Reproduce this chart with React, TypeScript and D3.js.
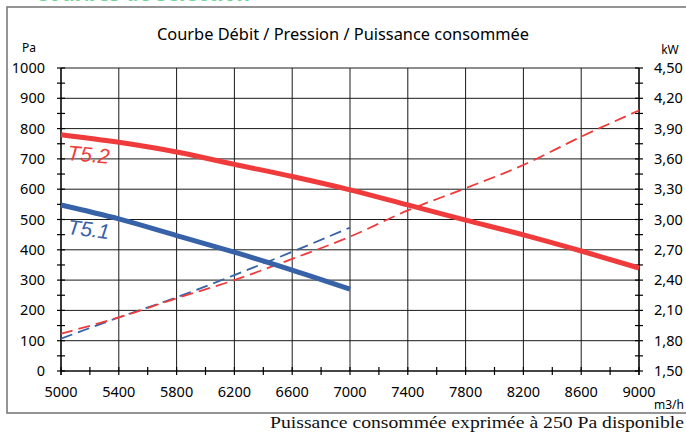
import React from 'react';
import * as d3 from 'd3';

// débit (m3/h)
const flowT51 = [5000, 5400, 5800, 6200, 6600, 7000];
const flowT52 = [5000, 5400, 5800, 6200, 6600, 7000, 7400, 7800, 8200, 8600, 9000];

// pression (Pa) - traits pleins
const pressureT51 = [548, 502, 447, 392, 333, 270];
const pressureT52 = [780, 755, 723, 682, 642, 598, 548, 498, 449, 396, 340];

// puissance consommée (kW) - pointillés
const powerT51 = [1.82, 2.03, 2.23, 2.45, 2.68, 2.92];
const powerT52 = [1.87, 2.03, 2.22, 2.40, 2.61, 2.83, 3.09, 3.31, 3.54, 3.82, 4.08];

const xTicks = [5000, 5400, 5800, 6200, 6600, 7000, 7400, 7800, 8200, 8600, 9000];
const paTicks = [0, 100, 200, 300, 400, 500, 600, 700, 800, 900, 1000];
const kwTicks = [1.5, 1.8, 2.1, 2.4, 2.7, 3.0, 3.3, 3.6, 3.9, 4.2, 4.5];

const RED = '#ef3b3b';
const BLUE = '#3762a8';
const FONT = '"Noto Sans", sans-serif';

const margin = { left: 61, right: 639, top: 68, bottom: 371 };

const x = d3.scaleLinear().domain([5000, 9000]).range([margin.left, margin.right]);
const y = d3.scaleLinear().domain([0, 1000]).range([margin.bottom, margin.top]);
const y2 = d3.scaleLinear().domain([1.5, 4.5]).range([margin.bottom, margin.top]);

const paLine = d3.line<number>().x((d, i) => x(flowT52[i])).y(d => y(d)).curve(d3.curveMonotoneX);
const kwLine = d3.line<number>().x((d, i) => x(flowT52[i])).y(d => y2(d)).curve(d3.curveMonotoneX);

export default function App() {
  const minorPa = d3.range(0, 1001, 50);
  const minorKw = d3.range(0, 21).map(i => 1.5 + i * 0.15);
  const minorX = d3.range(5000, 9001, 200);
  const fmtKw = (v: number) => v.toFixed(2).replace('.', ',');

  return (
    <svg width={686} height={432} style={{ position: 'absolute', left: 0, top: 0, background: '#fff' }}>
      {/* en-tête coupé en haut de page */}
      <text x={35} y={1} fill="#6fd69a" fontFamily={FONT} fontWeight="bold" fontSize={26}
        textLength={215} lengthAdjust="spacingAndGlyphs">Courbes de sélection</text>

      {/* cadre */}
      <rect x={7} y={7} width={700} height={406} fill="none" stroke="#7a7a7a" strokeWidth={1.6} />

      <text x={343} y={40} textAnchor="middle" fontFamily={FONT} fontSize={16} fill="#000"
        textLength={372} lengthAdjust="spacingAndGlyphs">Courbe Débit / Pression / Puissance consommée</text>
      <text x={29} y={52} textAnchor="middle" fontFamily={FONT} fontSize={12} fill="#000">Pa</text>
      <text x={670} y={54} textAnchor="middle" fontFamily={FONT} fontSize={12} fill="#000">kW</text>

      {/* grille */}
      <g stroke="#1a1a1a" strokeWidth={1}>
        {paTicks.map(t => (
          <line key={'h' + t} x1={margin.left} x2={margin.right} y1={y(t)} y2={y(t)} />
        ))}
        {xTicks.map(t => (
          <line key={'v' + t} x1={x(t)} x2={x(t)} y1={margin.top} y2={margin.bottom} />
        ))}
      </g>

      {/* axes et graduations */}
      <g stroke="#000" strokeWidth={1.2}>
        <line x1={margin.left} x2={margin.left} y1={margin.top} y2={margin.bottom + 4} />
        <line x1={margin.right} x2={margin.right} y1={margin.top} y2={margin.bottom + 4} />
        <line x1={margin.left} x2={margin.right} y1={margin.bottom} y2={margin.bottom} />
        {minorPa.map(t => (
          <line key={'pt' + t} x1={margin.left - 4} x2={margin.left + 4} y1={y(t)} y2={y(t)} />
        ))}
        {minorKw.map(t => (
          <line key={'kt' + t} x1={margin.right - 4} x2={margin.right + 4} y1={y2(t)} y2={y2(t)} />
        ))}
        {minorX.map(t => (
          <line key={'xt' + t} x1={x(t)} x2={x(t)} y1={margin.bottom - 4} y2={margin.bottom + 4} />
        ))}
      </g>

      <g fontFamily={FONT} fontSize={14.5} fill="#000">
        {paTicks.map(t => (
          <text key={'pl' + t} x={45} y={y(t)} dy="0.35em" textAnchor="end">{t}</text>
        ))}
        {kwTicks.map(t => (
          <text key={'kl' + t} x={654} y={y2(t)} dy="0.35em">{fmtKw(t)}</text>
        ))}
        {xTicks.map(t => (
          <text key={'xl' + t} x={x(t)} y={397} textAnchor="middle">{t}</text>
        ))}
      </g>
      <text x={684} y={409} textAnchor="end" fontFamily={FONT} fontSize={12} fill="#000">m3/h</text>

      {/* courbes */}
      <path d={kwLine.x((d, i) => x(flowT51[i]))(powerT51) ?? ''} fill="none" stroke={BLUE} strokeWidth={1.8} strokeDasharray="12 6" />
      <path d={kwLine.x((d, i) => x(flowT52[i]))(powerT52) ?? ''} fill="none" stroke={RED} strokeWidth={1.8} strokeDasharray="12 6" />
      <path d={paLine.x((d, i) => x(flowT51[i]))(pressureT51) ?? ''} fill="none" stroke={BLUE} strokeWidth={5} />
      <path d={paLine.x((d, i) => x(flowT52[i]))(pressureT52) ?? ''} fill="none" stroke={RED} strokeWidth={5} />

      <text x={67} y={160} fill={RED} fontFamily="'Liberation Sans', Arial, sans-serif" fontStyle="italic" fontSize={21}
        transform="rotate(5 67 160)">T5.2</text>
      <text x={67} y={234} fill={BLUE} fontFamily="'Liberation Sans', Arial, sans-serif" fontStyle="italic" fontSize={21}
        transform="rotate(7 67 234)">T5.1</text>

      <text x={684} y={428} textAnchor="end" fontFamily="'Liberation Serif', serif" fontSize={17} fill="#111"
        textLength={414} lengthAdjust="spacingAndGlyphs">Puissance consommée exprimée à 250 Pa disponible</text>
    </svg>
  );
}
